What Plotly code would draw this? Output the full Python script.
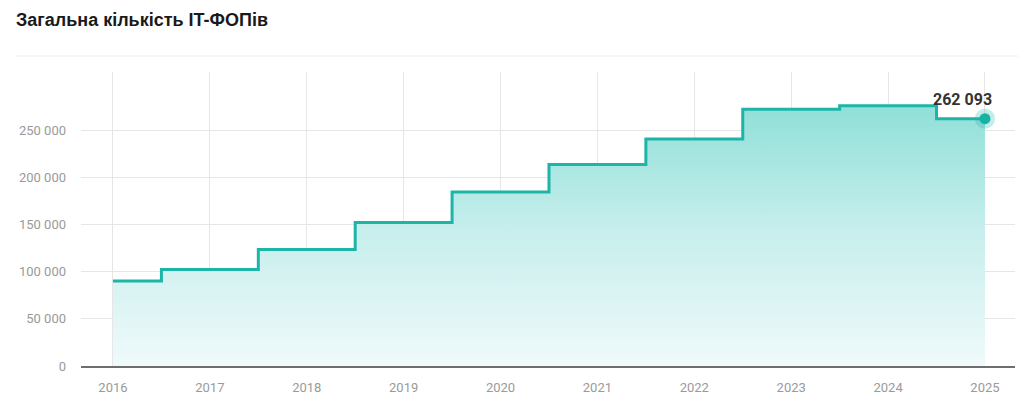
import plotly.graph_objects as go

years = [2016, 2017, 2018, 2019, 2020, 2021, 2022, 2023, 2024, 2025]
fop_counts = [90000, 102200, 123400, 152000, 184300, 213500, 240600, 272100, 275800, 262093]
y_ticks = [0, 50000, 100000, 150000, 200000, 250000]
title_text = "Загальна кількість IT-ФОПів"


def fmt(v):
    return f"{v:,}".replace(",", " ")


W, H = 1024, 405
L, R, T, B = 81, 9, 72, 39
pw = W - L - R
ph = H - T - B

line_color = "#1db5a7"

fig = go.Figure()
fig.add_trace(go.Scatter(
    x=years, y=fop_counts, mode="lines", line_shape="hvh",
    line=dict(color=line_color, width=3),
    fill="tozeroy",
    fillgradient=dict(type="vertical", start=0, stop=290000,
                      colorscale=[[0, "rgba(240,250,251,1)"], [0.5, "rgba(198,238,236,1)"], [1, "rgba(138,222,214,1)"]]),
    hoverinfo="skip", showlegend=False,
))
fig.add_trace(go.Scatter(
    x=[years[-1]], y=[fop_counts[-1]], mode="markers",
    marker=dict(size=20, color="rgba(29,181,167,0.25)", line=dict(width=0)),
    hoverinfo="skip", showlegend=False,
))
fig.add_trace(go.Scatter(
    x=[years[-1]], y=[fop_counts[-1]], mode="markers",
    marker=dict(size=11, color="#16b3a3", line=dict(width=0)),
    hoverinfo="skip", showlegend=False,
))

fig.add_annotation(
    x=years[-1], y=fop_counts[-1], xref="x", yref="y",
    text=f"<b>{fmt(fop_counts[-1])}</b>", showarrow=False,
    xanchor="center", yanchor="bottom", xshift=-22, yshift=8,
    font=dict(family="Roboto", size=16, color="#333333"),
)

# separator under title
fig.add_shape(type="line", xref="paper", yref="paper",
              x0=(16 - L) / pw, x1=(1018 - L) / pw,
              y0=(H - B - 56) / ph, y1=(H - B - 56) / ph,
              line=dict(color="#eeeeee", width=1))

fig.update_layout(
    width=W, height=H,
    margin=dict(l=L, r=R, t=T, b=B, pad=0),
    paper_bgcolor="white", plot_bgcolor="white",
    title=dict(text=f"<b>{title_text}</b>", xref="container", yref="container",
               x=16 / W, y=1 - 19.5 / H, xanchor="left", yanchor="middle",
               font=dict(family="Liberation Sans", size=18, color="#1a1a1a")),
    xaxis=dict(range=[2015.67, 2025.31], tickvals=years, ticktext=[str(y) for y in years],
               showgrid=True, gridcolor="#e6e6e6", gridwidth=1,
               showline=True, linecolor="#6e6e6e", linewidth=2,
               zeroline=False, ticks="", ticklabelstandoff=8,
               tickfont=dict(family="Roboto", size=13, color="#9a9a9a"), fixedrange=True),
    yaxis=dict(range=[0, 311500], tickvals=y_ticks, ticktext=[fmt(v) for v in y_ticks],
               showgrid=True, gridcolor="#e6e6e6", gridwidth=1,
               zeroline=False, showline=False, ticks="", ticklabelstandoff=14,
               tickfont=dict(family="Roboto", size=13, color="#9a9a9a"), fixedrange=True),
)

fig.write_html("out.html", config={"displayModeBar": False})
